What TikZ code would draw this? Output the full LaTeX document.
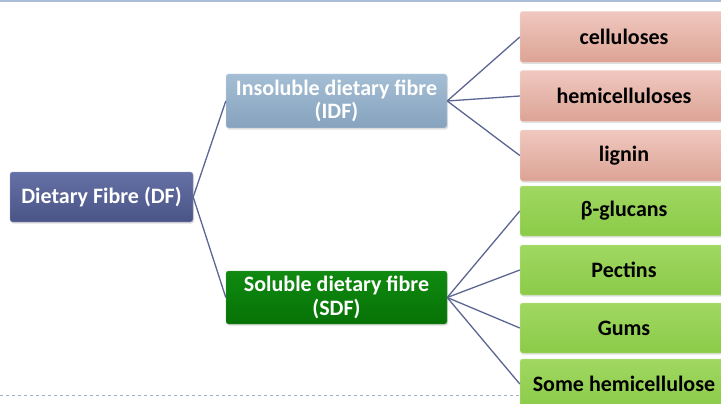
\documentclass[tikz,border=0pt]{standalone}
\usepackage{fontspec}
\setmainfont{Carlito}
\usetikzlibrary{positioning,shadows}
\definecolor{dftop}{HTML}{6570A6}
\definecolor{dfbot}{HTML}{4A5486}
\definecolor{idftop}{HTML}{A4BED4}
\definecolor{idfbot}{HTML}{86A2BD}
\definecolor{sdftop}{HTML}{108A10}
\definecolor{sdfbot}{HTML}{067206}
\definecolor{pinktop}{HTML}{F0C8BF}
\definecolor{pinkbot}{HTML}{DCA395}
\definecolor{limetop}{HTML}{A0D862}
\definecolor{limebot}{HTML}{8BCB48}
\definecolor{linkcol}{HTML}{5B6692}
\definecolor{rulecol}{HTML}{A9BDD6}

\begin{document}
\begin{tikzpicture}[x=1pt,y=-1pt,
  box/.style={rounded corners=2.5pt, align=center, inner sep=0pt,
    font=\bfseries\fontsize{22}{23.5}\selectfont,
    drop shadow={opacity=0.25, shadow xshift=1pt, shadow yshift=-1.5pt}},
  dfbox/.style={box, text=white, top color=dftop, bottom color=dfbot,
    draw=dftop!60!white, minimum width=183pt, minimum height=50pt},
  idfbox/.style={box, text=white, top color=idftop, bottom color=idfbot,
    draw=idftop!60!white, minimum width=221pt, minimum height=54pt},
  sdfbox/.style={box, text=white, top color=sdftop, bottom color=sdfbot,
    draw=sdftop!80!white, minimum width=221pt, minimum height=53pt},
  pinkbox/.style={box, top color=pinktop, bottom color=pinkbot,
    draw=pinktop!60!white, minimum width=208pt, minimum height=51pt},
  limebox/.style={box, top color=limetop, bottom color=limebot,
    draw=limetop!60!white, minimum width=208pt, minimum height=50pt},
  link/.style={draw=linkcol, line width=1.3pt}]
\useasboundingbox (0,0) rectangle (721,404);
\clip (0,0) rectangle (721,404);
\draw [rulecol, line width=2pt] (0,1) -- (721,1);
\draw [rulecol!80!gray, dashed, line width=0.6pt] (0,395) -- (721,395);

\node[dfbox] (df) at (101.5,197) {Dietary Fibre (DF)};
\node[idfbox] (idf) at (336.5,101) {Insoluble dietary fibre\\(IDF)};
\node[sdfbox] (sdf) at (336.5,297.5) {Soluble dietary fibre\\(SDF)};

\node[pinkbox] (cell) at (624,37) {celluloses};
\node[pinkbox] (hemi) at (624,96) {hemicelluloses};
\node[pinkbox] (lign) at (624,155.5) {lignin};
\node[limebox] (gluc) at (624,211) {β-glucans};
\node[limebox] (pect) at (624,270) {Pectins};
\node[limebox] (gums) at (624,328) {Gums};
\node[limebox] (some) at (624,384) {Some hemicellulose};

\draw [link] (df.east) -- (idf.west);
\draw [link] (df.east) -- (sdf.west);
\draw [link] (idf.east) -- (cell.west);
\draw [link] (idf.east) -- (hemi.west);
\draw [link] (idf.east) -- (lign.west);
\draw [link] (sdf.east) -- (gluc.west);
\draw [link] (sdf.east) -- (pect.west);
\draw [link] (sdf.east) -- (gums.west);
\draw [link] (sdf.east) -- (some.west);
\end{tikzpicture}
\end{document}
